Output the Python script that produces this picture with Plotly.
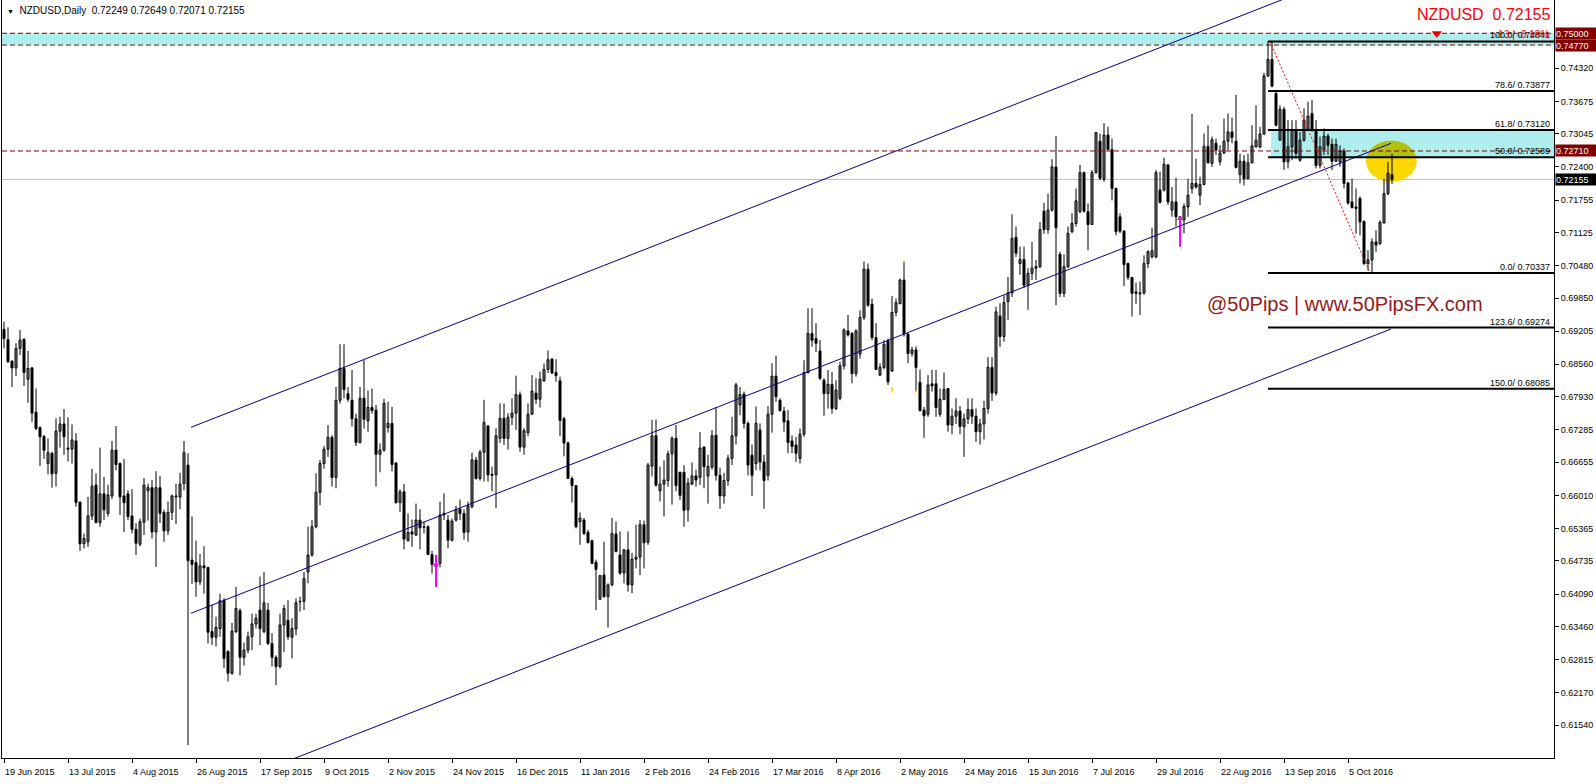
import numpy as np
import plotly.graph_objects as go

# ---------------- data ----------------
date_labels = ["19 Jun 2015", "13 Jul 2015", "4 Aug 2015", "26 Aug 2015", "17 Sep 2015", "9 Oct 2015",
               "2 Nov 2015", "24 Nov 2015", "16 Dec 2015", "11 Jan 2016", "2 Feb 2016", "24 Feb 2016",
               "17 Mar 2016", "8 Apr 2016", "2 May 2016", "24 May 2016", "15 Jun 2016", "7 Jul 2016",
               "29 Jul 2016", "22 Aug 2016", "13 Sep 2016", "5 Oct 2016"]
label_bars = [0, 16, 32, 48, 64, 80, 96, 112, 128, 144, 160, 176, 192, 208, 224, 240, 256, 272, 288, 304, 320, 336]

price_ticks = [0.74320, 0.73675, 0.73045, 0.72400, 0.71755, 0.71125, 0.70480, 0.69850, 0.69205, 0.68560,
               0.67930, 0.67285, 0.66655, 0.66010, 0.65365, 0.64735, 0.64090, 0.63460, 0.62815, 0.62170,
               0.61540, 0.60895]

# OHLC in pips (price * 10000)
open_pips = [
    6924, 6904, 6862, 6849, 6887, 6905, 6827, 6849, 6763, 6733,
    6716, 6663, 6683, 6644, 6726, 6740, 6693, 6691, 6707, 6588,
    6507, 6511, 6561, 6621, 6548, 6604, 6566, 6600, 6689, 6663,
    6600, 6604, 6561, 6535, 6506, 6549, 6610, 6616, 6530, 6616,
    6568, 6532, 6568, 6598, 6598, 6624, 6660, 6475, 6470, 6433,
    6464, 6461, 6336, 6325, 6342, 6397, 6297, 6255, 6336, 6377,
    6286, 6300, 6326, 6351, 6378, 6336, 6378, 6313, 6286, 6268,
    6349, 6358, 6325, 6341, 6394, 6395, 6452, 6485, 6540, 6607,
    6663, 6691, 6714, 6636, 6786, 6848, 6799, 6786, 6750, 6704,
    6790, 6746, 6772, 6767, 6681, 6689, 6733, 6741, 6664, 6587,
    6608, 6513, 6530, 6524, 6553, 6540, 6540, 6486, 6467, 6469,
    6563, 6553, 6514, 6553, 6574, 6566, 6530, 6579, 6670, 6634,
    6685, 6736, 6642, 6641, 6712, 6751, 6712, 6753, 6761, 6797,
    6695, 6723, 6759, 6800, 6788, 6824, 6846, 6866, 6840, 6824,
    6750, 6703, 6634, 6620, 6550, 6553, 6529, 6513, 6471, 6399,
    6446, 6404, 6427, 6526, 6485, 6450, 6495, 6427, 6477, 6481,
    6544, 6510, 6658, 6717, 6610, 6623, 6630, 6682, 6712, 6646,
    6646, 6573, 6623, 6639, 6636, 6695, 6639, 6656, 6718, 6640,
    6600, 6630, 6673, 6717, 6777, 6798, 6741, 6679, 6663, 6728,
    6666, 6640, 6759, 6833, 6786, 6765, 6746, 6707, 6699, 6673,
    6720, 6840, 6916, 6906, 6882, 6825, 6799, 6817, 6770, 6790,
    6853, 6921, 6916, 6838, 6876, 6947, 7041, 6973, 6908, 6835,
    6850, 6902, 6843, 6957, 6974, 7020, 6915, 6877, 6884, 6821,
    6767, 6759, 6818, 6818, 6759, 6788, 6809, 6738, 6755, 6765,
    6735, 6750, 6768, 6755, 6725, 6740, 6770, 6850, 6800, 6950,
    6910, 6978, 6995, 7103, 7052, 7060, 7009, 7033, 7043, 7046,
    7154, 7118, 7156, 7240, 7070, 6994, 7046, 7114, 7130, 7153,
    7229, 7153, 7128, 7229, 7290, 7216, 7302, 7274, 7198, 7143,
    7115, 7052, 7025, 6994, 6993, 6995, 7052, 7065, 7065, 7195,
    7195, 7244, 7156, 7172, 7143, 7137, 7162, 7198, 7208, 7185,
    7206, 7280, 7247, 7286, 7250, 7267, 7290, 7308, 7290, 7225,
    7251, 7217, 7248, 7279, 7279, 7304, 7417, 7449, 7383, 7292,
    7352, 7250, 7279, 7311, 7253, 7292, 7313, 7344, 7311, 7243,
    7274, 7300, 7284, 7251, 7250, 7271, 7209, 7172, 7162, 7179,
    7134, 7052, 7059, 7094, 7091, 7131, 7188, 7224.9]

high_pips = [
    6939, 6928, 6864, 6897, 6923, 6906, 6882, 6851, 6809, 6735,
    6718, 6712, 6686, 6751, 6754, 6769, 6753, 6739, 6722, 6589,
    6527, 6598, 6653, 6644, 6694, 6637, 6622, 6707, 6736, 6665,
    6672, 6611, 6613, 6547, 6556, 6635, 6624, 6631, 6648, 6639,
    6573, 6589, 6603, 6624, 6645, 6707, 6683, 6560, 6513, 6487,
    6502, 6462, 6388, 6365, 6410, 6401, 6300, 6353, 6423, 6381,
    6315, 6336, 6371, 6371, 6443, 6452, 6392, 6333, 6290, 6371,
    6388, 6397, 6362, 6401, 6404, 6452, 6540, 6553, 6644, 6670,
    6697, 6738, 6718, 6812, 6895, 6895, 6812, 6845, 6760, 6812,
    6864, 6805, 6809, 6777, 6702, 6789, 6783, 6773, 6666, 6613,
    6623, 6566, 6554, 6585, 6574, 6550, 6543, 6493, 6485, 6589,
    6605, 6563, 6556, 6581, 6593, 6574, 6589, 6684, 6676, 6690,
    6787, 6738, 6657, 6732, 6780, 6780, 6761, 6790, 6834, 6803,
    6732, 6780, 6835, 6829, 6842, 6858, 6883, 6868, 6866, 6832,
    6754, 6706, 6638, 6621, 6568, 6557, 6534, 6515, 6476, 6446,
    6511, 6430, 6557, 6550, 6531, 6497, 6531, 6489, 6544, 6553,
    6552, 6664, 6748, 6749, 6657, 6669, 6688, 6716, 6738, 6647,
    6660, 6635, 6665, 6651, 6724, 6696, 6680, 6728, 6773, 6655,
    6645, 6680, 6754, 6820, 6812, 6803, 6745, 6700, 6774, 6741,
    6680, 6775, 6858, 6873, 6790, 6773, 6767, 6718, 6715, 6731,
    6864, 6965, 6965, 6936, 6903, 6829, 6845, 6841, 6825, 6861,
    6926, 6952, 6919, 6924, 6961, 7056, 7052, 6984, 6936, 6858,
    6903, 6906, 6989, 6984, 7023, 7056, 6916, 6890, 6891, 6846,
    6773, 6835, 6845, 6845, 6809, 6840, 6810, 6770, 6790, 6775,
    6760, 6790, 6790, 6770, 6750, 6785, 6870, 6870, 6968, 6975,
    6990, 7026, 7148, 7124, 7085, 7085, 7043, 7094, 7059, 7133,
    7170, 7188, 7255, 7300, 7075, 7070, 7124, 7150, 7198, 7244,
    7231, 7169, 7234, 7308, 7305, 7325, 7318, 7295, 7200, 7150,
    7117, 7054, 7026, 7015, 7017, 7068, 7078, 7122, 7234, 7231,
    7258, 7244, 7201, 7219, 7143, 7169, 7217, 7343, 7256, 7221,
    7305, 7321, 7299, 7295, 7282, 7334, 7344, 7336, 7380, 7266,
    7263, 7266, 7321, 7360, 7318, 7423, 7485, 7483, 7389, 7360,
    7357, 7331, 7331, 7331, 7308, 7354, 7367, 7370, 7331, 7299,
    7315, 7305, 7295, 7295, 7282, 7276, 7211, 7217, 7198, 7182,
    7136, 7078, 7101, 7117, 7136, 7217, 7250, 7264.9]

low_pips = [
    6887, 6859, 6812, 6833, 6874, 6814, 6781, 6744, 6728, 6658,
    6672, 6642, 6616, 6618, 6694, 6680, 6667, 6663, 6579, 6493,
    6498, 6501, 6553, 6547, 6540, 6553, 6560, 6594, 6650, 6563,
    6530, 6553, 6527, 6485, 6502, 6524, 6552, 6517, 6462, 6547,
    6511, 6524, 6553, 6545, 6574, 6611, 6115, 6429, 6404, 6427,
    6410, 6313, 6310, 6307, 6326, 6265, 6239, 6252, 6333, 6251,
    6270, 6294, 6300, 6342, 6310, 6333, 6310, 6268, 6232, 6264,
    6296, 6320, 6284, 6329, 6375, 6378, 6430, 6482, 6537, 6582,
    6653, 6676, 6618, 6615, 6780, 6790, 6783, 6735, 6697, 6702,
    6731, 6725, 6760, 6618, 6646, 6686, 6723, 6648, 6585, 6569,
    6496, 6511, 6501, 6522, 6496, 6527, 6485, 6449, 6449, 6461,
    6553, 6498, 6511, 6550, 6553, 6515, 6511, 6576, 6632, 6630,
    6628, 6628, 6609, 6576, 6703, 6699, 6690, 6738, 6728, 6686,
    6680, 6716, 6758, 6779, 6772, 6822, 6839, 6837, 6822, 6716,
    6677, 6633, 6587, 6537, 6505, 6524, 6508, 6467, 6378, 6398,
    6402, 6344, 6424, 6490, 6446, 6430, 6414, 6411, 6459, 6446,
    6459, 6505, 6638, 6618, 6589, 6560, 6618, 6583, 6609, 6592,
    6540, 6550, 6621, 6618, 6621, 6615, 6585, 6651, 6630, 6575,
    6585, 6620, 6660, 6700, 6757, 6731, 6640, 6600, 6650, 6650,
    6575, 6630, 6723, 6783, 6764, 6725, 6683, 6683, 6666, 6663,
    6715, 6838, 6890, 6880, 6825, 6756, 6770, 6760, 6767, 6786,
    6846, 6910, 6819, 6832, 6867, 6942, 6968, 6903, 6845, 6833,
    6846, 6816, 6841, 6949, 6973, 6910, 6858, 6871, 6803, 6764,
    6713, 6754, 6803, 6754, 6754, 6786, 6725, 6720, 6740, 6720,
    6676, 6740, 6740, 6705, 6700, 6710, 6760, 6785, 6795, 6890,
    6900, 6942, 6987, 7065, 7030, 7004, 6962, 7020, 7020, 7043,
    7110, 7110, 7153, 6971, 6987, 6987, 7043, 7111, 7124, 7150,
    7151, 7078, 7127, 7227, 7214, 7211, 7273, 7175, 7107, 7111,
    7008, 7020, 6949, 6974, 6952, 6991, 7043, 7062, 7062, 7169,
    7192, 7166, 7143, 7124, 7085, 7111, 7143, 7188, 7198, 7166,
    7204, 7247, 7240, 7263, 7243, 7266, 7273, 7286, 7237, 7208,
    7204, 7216, 7247, 7278, 7276, 7302, 7415, 7395, 7319, 7291,
    7234, 7237, 7253, 7256, 7250, 7289, 7310, 7308, 7237, 7237,
    7263, 7263, 7234, 7250, 7240, 7198, 7166, 7159, 7110, 7107,
    7049, 7039, 7034, 7075, 7088, 7130, 7185, 7207.1]

close_pips = [
    6906, 6861, 6849, 6887, 6903, 6840, 6848, 6761, 6731, 6715,
    6689, 6684, 6643, 6726, 6740, 6715, 6691, 6709, 6587, 6507,
    6517, 6561, 6619, 6548, 6604, 6573, 6602, 6689, 6661, 6598,
    6587, 6560, 6535, 6508, 6550, 6621, 6616, 6530, 6616, 6566,
    6532, 6568, 6600, 6600, 6623, 6684, 6474, 6467, 6433, 6464,
    6460, 6335, 6325, 6344, 6396, 6284, 6255, 6337, 6381, 6286,
    6300, 6326, 6351, 6362, 6342, 6392, 6313, 6286, 6268, 6349,
    6381, 6326, 6342, 6392, 6395, 6439, 6485, 6540, 6607, 6663,
    6691, 6714, 6636, 6786, 6848, 6807, 6788, 6750, 6704, 6790,
    6749, 6772, 6766, 6681, 6689, 6780, 6741, 6661, 6587, 6608,
    6516, 6529, 6526, 6553, 6538, 6539, 6486, 6467, 6462, 6563,
    6566, 6514, 6551, 6574, 6566, 6529, 6581, 6670, 6634, 6685,
    6743, 6641, 6640, 6717, 6751, 6712, 6753, 6761, 6797, 6695,
    6727, 6759, 6804, 6788, 6827, 6846, 6865, 6839, 6834, 6747,
    6703, 6634, 6620, 6540, 6557, 6527, 6509, 6469, 6457, 6445,
    6404, 6427, 6527, 6492, 6450, 6495, 6427, 6477, 6481, 6544,
    6509, 6660, 6717, 6621, 6623, 6631, 6682, 6712, 6620, 6601,
    6572, 6625, 6639, 6631, 6693, 6657, 6657, 6717, 6640, 6600,
    6630, 6673, 6717, 6816, 6797, 6741, 6660, 6640, 6741, 6666,
    6630, 6759, 6833, 6793, 6766, 6744, 6704, 6696, 6683, 6720,
    6840, 6916, 6903, 6897, 6829, 6799, 6817, 6770, 6806, 6853,
    6923, 6913, 6838, 6921, 6947, 7041, 6971, 6908, 6846, 6850,
    6895, 6822, 6957, 6976, 7020, 6915, 6877, 6884, 6850, 6766,
    6756, 6816, 6814, 6772, 6788, 6807, 6738, 6755, 6765, 6735,
    6750, 6768, 6755, 6725, 6740, 6770, 6850, 6800, 6958, 6910,
    6976, 6995, 7101, 7072, 7060, 7010, 7033, 7043, 7046, 7118,
    7118, 7156, 7240, 7122, 6994, 7046, 7111, 7130, 7174, 7229,
    7154, 7128, 7229, 7307, 7218, 7302, 7274, 7198, 7114, 7115,
    7050, 7025, 6994, 6997, 6995, 7052, 7075, 7077, 7229, 7171,
    7245, 7172, 7172, 7143, 7138, 7163, 7185, 7208, 7201, 7206,
    7280, 7248, 7293, 7273, 7267, 7290, 7308, 7297, 7239, 7251,
    7217, 7248, 7281, 7292, 7304, 7417, 7449, 7397, 7321, 7352,
    7250, 7279, 7311, 7266, 7292, 7331, 7339, 7311, 7243, 7279,
    7300, 7282, 7251, 7284, 7271, 7208, 7170, 7161, 7159, 7133,
    7052, 7059, 7094, 7088, 7132, 7188, 7228, 7215.5]

# chart objects (bar index / price)
band_prices = [0.74770, 0.75000]          # top support/resistance band
dash_levels = [0.75000, 0.74770, 0.72710]  # dark-red dashed levels
bid_price = 0.72155

fib_names = ["100.0", "78.6", "61.8", "50.0", "0.0", "123.6", "150.0"]
fib_prices = [0.74841, 0.73877, 0.73120, 0.72589, 0.70337, 0.69274, 0.68085]
fib_start_bar = 316
zone_bars = [316.75]
zone_prices = [0.72589, 0.73120]

chan_start_bar = [46.75, 46.75, 60.0]
chan_start_price = [0.67335, 0.63717, 0.60510]
chan_end_bar = [330.0, 346.75, 346.75]
chan_end_price = [0.75972, 0.72859, 0.69247]

zz_bars = [316.5, 341.5]
zz_prices = [0.74841, 0.70337]

ell_bars = [340.5, 353.2]
ell_prices = [0.72112, 0.72910]

magenta_bars = [108, 294]
magenta_hi = [0.6485, 0.7143]
magenta_lo = [0.6423, 0.7085]
magenta_mid = [0.6467, 0.7138]

yellow_bars = [222, 225, 228]
yellow_hi = [0.6812, 0.7058, 0.6806]
yellow_lo = [0.6801, 0.7054, 0.6801]

alert_bar = [358.2]
alert_price = [0.74995]

# ---------------- figure ----------------
O = np.array(open_pips) / 1e4
H = np.array(high_pips) / 1e4
L = np.array(low_pips) / 1e4
C = np.array(close_pips) / 1e4
idx = np.arange(len(O))

X_MIN, X_MAX = -0.5, 387.5
Y_MIN, Y_MAX = 0.60902, 0.75647
FONT = "Liberation Sans, Arial, sans-serif"
DARKRED = "#800000"

fig = go.Figure()

# --- background shapes ---
shapes = []
shapes.append(dict(type="rect", xref="paper", yref="y", x0=0, x1=1, y0=band_prices[0], y1=band_prices[1],
                   fillcolor="#AFEEEE", line_width=0, layer="below"))
shapes.append(dict(type="rect", xref="x", yref="y", x0=zone_bars[0], x1=X_MAX, y0=zone_prices[0], y1=zone_prices[1],
                   fillcolor="#AFEEEE", line_width=0, layer="below"))
shapes.append(dict(type="line", xref="paper", yref="y", x0=0, x1=1, y0=bid_price, y1=bid_price,
                   line=dict(color="#C0C0C0", width=1), layer="below"))
shapes.append(dict(type="circle", xref="x", yref="y", x0=ell_bars[0], x1=ell_bars[1], y0=ell_prices[0], y1=ell_prices[1],
                   fillcolor="#FFD700", line_width=0, layer="below"))
# part of the ellipse overlapping the zone (blended colour)
cx = (ell_bars[0] + ell_bars[1]) / 2
rx = (ell_bars[1] - ell_bars[0]) / 2
cy = (ell_prices[0] + ell_prices[1]) / 2
ry = (ell_prices[1] - ell_prices[0]) / 2
t0 = np.arcsin((zone_prices[0] - cy) / ry)
tt = np.linspace(t0, np.pi - t0, 40)
pts = [f"{cx + rx * np.cos(t):.4f},{cy + ry * np.sin(t):.6f}" for t in tt]
path = "M " + " L ".join(pts) + " Z"
shapes.append(dict(type="path", xref="x", yref="y", path=path, fillcolor="#B2C00E", line_width=0, layer="below"))

# --- foreground level lines ---
for lv in dash_levels:
    shapes.append(dict(type="line", xref="paper", yref="y", x0=0, x1=1, y0=lv, y1=lv,
                       line=dict(color=DARKRED, width=1, dash="5px,3px"), layer="above"))
for fp in fib_prices:
    shapes.append(dict(type="line", xref="x", yref="y", x0=fib_start_bar, x1=X_MAX, y0=fp, y1=fp,
                       line=dict(color="black", width=2), layer="above"))

# --- candles ---
wx, wy = [], []
for i in idx:
    wx += [i, i, None]
    wy += [L[i], H[i], None]
fig.add_trace(go.Scatter(x=wx, y=wy, mode="lines", line=dict(color="black", width=1), hoverinfo="skip"))

up = C >= O
body_lo = np.minimum(O, C)
body_h = np.maximum(np.abs(C - O), 0.00003)
fig.add_trace(go.Bar(x=idx[up], base=body_lo[up], y=body_h[up], width=0.5,
                     marker=dict(color="white", line=dict(color="black", width=1)), hoverinfo="skip"))
fig.add_trace(go.Bar(x=idx[~up], base=body_lo[~up], y=body_h[~up], width=0.5,
                     marker=dict(color="black", line=dict(color="black", width=1)), hoverinfo="skip"))

# --- indicator marks ---
mx, my = [], []
for b, hi, lo in zip(magenta_bars, magenta_hi, magenta_lo):
    mx += [b, b, None]
    my += [lo, hi, None]
fig.add_trace(go.Scatter(x=mx, y=my, mode="lines", line=dict(color="#FF00FF", width=2), hoverinfo="skip"))
fig.add_trace(go.Scatter(x=magenta_bars, y=magenta_mid, mode="markers",
                         marker=dict(symbol="line-ew", size=5, line=dict(color="#FF00FF", width=1)), hoverinfo="skip"))
yx, yy = [], []
for b, hi, lo in zip(yellow_bars, yellow_hi, yellow_lo):
    yx += [b, b, None]
    yy += [lo, hi, None]
fig.add_trace(go.Scatter(x=yx, y=yy, mode="lines", line=dict(color="#FFCC00", width=1.5), hoverinfo="skip"))

# --- channel lines ---
for xs, ys, xe, ye in zip(chan_start_bar, chan_start_price, chan_end_bar, chan_end_price):
    fig.add_trace(go.Scatter(x=[xs, xe], y=[ys, ye], mode="lines", line=dict(color="#00008B", width=1),
                             hoverinfo="skip"))

# --- zigzag ---
fig.add_trace(go.Scatter(x=zz_bars, y=zz_prices, mode="lines", line=dict(color="#FF0000", width=1, dash="2px,2px"),
                         hoverinfo="skip"))

# --- alert arrow ---
fig.add_trace(go.Scatter(x=alert_bar, y=alert_price, mode="markers",
                         marker=dict(symbol="triangle-down", size=9, color="#FF0000"), hoverinfo="skip",
                         cliponaxis=False))

# --- annotations ---
ann = []
for name, fp in zip(fib_names, fib_prices):
    ann.append(dict(xref="paper", yref="y", x=1, y=fp, xanchor="right", yanchor="bottom", xshift=-2, yshift=-1,
                    text=f"{name}/ {fp:.5f}", showarrow=False, font=dict(family=FONT, size=9, color="black")))
ann.append(dict(xref="paper", yref="y", x=1, y=0.74985, xanchor="right", yanchor="middle", xshift=-3,
                text="-13 | -0.18%", showarrow=False, font=dict(family=FONT, size=10, color="#FF0000")))
# right axis value boxes
for lv, bg in [(0.75000, DARKRED), (0.74770, DARKRED), (0.72710, DARKRED), (bid_price, "black")]:
    ann.append(dict(xref="paper", yref="y", x=1, y=lv, xanchor="left", yanchor="middle", xshift=1,
                    text=f"{lv:.5f}", showarrow=False, bgcolor=bg, width=40, height=11, borderpad=0,
                    align="left", font=dict(family=FONT, size=9, color="white")))
ann.append(dict(xref="paper", yref="paper", x=1, y=1, xanchor="right", yanchor="top", xshift=-2, yshift=-4,
                text="NZDUSD\u00a0\u00a00.72155", showarrow=False,
                font=dict(family=FONT, size=16, color="#FF0000")))
ann.append(dict(xref="paper", yref="paper", x=0, y=1, xanchor="left", yanchor="top", xshift=3, yshift=-3,
                text="<span style='font-size:7px'>▼</span>  NZDUSD,Daily  0.72249 0.72649 0.72071 0.72155",
                showarrow=False, font=dict(family=FONT, size=10, color="black")))
ann.append(dict(xref="x", yref="y", x=300.25, y=0.69733, xanchor="left", yanchor="middle",
                text="@50Pips | www.50PipsFX.com", showarrow=False,
                font=dict(family=FONT, size=20, color="#921A1A")))

fig.update_layout(
    width=1596, height=784,
    margin=dict(l=2, r=42, t=0, b=26),
    paper_bgcolor="white", plot_bgcolor="white",
    showlegend=False, barmode="overlay", hovermode=False,
    shapes=shapes, annotations=ann,
    xaxis=dict(range=[X_MIN, X_MAX], tickmode="array", tickvals=label_bars, ticktext=date_labels,
               ticks="outside", ticklen=4, tickwidth=1, tickcolor="black",
               showline=True, linecolor="black", linewidth=1, showgrid=False, zeroline=False,
               ticklabelposition="outside right", ticklabelstandoff=5,
               tickfont=dict(family=FONT, size=9, color="black"), fixedrange=True),
    yaxis=dict(range=[Y_MIN, Y_MAX], side="right", tickmode="array", tickvals=price_ticks,
               ticktext=[f"{v:.5f}" for v in price_ticks],
               ticks="outside", ticklen=4, tickwidth=1, tickcolor="black",
               showline=True, mirror=True, linecolor="black", linewidth=1, showgrid=False, zeroline=False,
               tickfont=dict(family=FONT, size=9, color="black"), fixedrange=True),
)

fig.write_html("out.html", config={"displayModeBar": False},
               post_script="document.body.style.margin='0px';document.body.style.overflow='hidden';")
